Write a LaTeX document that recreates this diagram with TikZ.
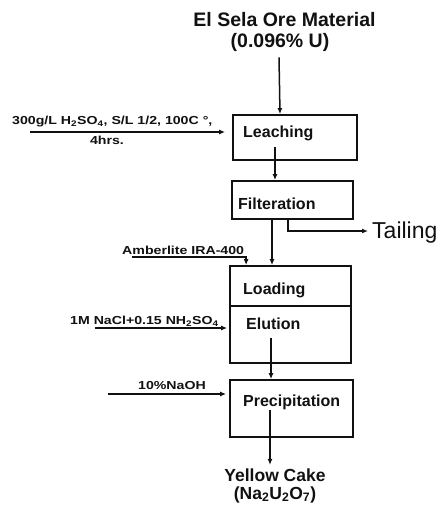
\documentclass[tikz,border=0pt]{standalone}
\usepackage{fontspec}
\setmainfont{Liberation Sans}
\newfontfamily\feedfont[FakeStretch=1.22]{Liberation Sans}
\usetikzlibrary{arrows.meta,calc,positioning}
\definecolor{oreInk}{HTML}{111111}
\definecolor{orePaper}{HTML}{FFFFFF}

\begin{document}
\begin{tikzpicture}[x=1pt,y=-1pt,>={Latex[length=6pt,width=5pt]},line cap=butt,line join=miter]
\path[fill=orePaper] (0,0) rectangle (440,511);
\tikzset{stage/.style={draw=oreInk,line width=1.8pt,inner sep=0pt},stagetext/.style={anchor=west,text=oreInk,inner sep=0pt,font=\bfseries\fontsize{16}{18}\selectfont},feed/.style={text=oreInk,inner sep=0pt,font=\feedfont\bfseries\fontsize{11.6}{13}\selectfont},flow/.style={draw=oreInk,line width=1.5pt,->},headline/.style={text=oreInk,inner sep=0pt,font=\bfseries\fontsize{19.5}{21}\selectfont}}
\node[headline] (ore) at (284.5,20) {El Sela Ore Material};
\node[headline] (grade) at (280,42) {(0.096\% U)};
% process stages
\node[stage,minimum width=124pt,minimum height=45pt] (leach) at (295,137.5) {};
\node[stage,minimum width=121pt,minimum height=38pt] (filt) at (292.5,200) {};
\node[stage,minimum width=121pt,minimum height=40pt] (load) at (290.5,286) {};
\node[stage,minimum width=121pt,minimum height=57pt] (elut) at (290.5,334.5) {};
\node[stage,minimum width=123pt,minimum height=57pt] (prec) at (291.5,408.5) {};
\node[stagetext] (leachtxt) at (243,133) {Leaching};
\node[stagetext] (filttxt) at (238,204) {Filteration};
\node[stagetext] (loadtxt) at (243,290) {Loading};
\node[stagetext] (eluttxt) at (246,324) {Elution};
\node[stagetext] (prectxt) at (243,402) {Precipitation};
\node[anchor=west,text=oreInk,inner sep=0pt,font=\fontsize{23}{25}\selectfont] (tail) at (372,233) {Tailing};
\node[text=oreInk,inner sep=0pt,align=center,font=\bfseries\fontsize{17.5}{17.5}\selectfont] (cake) at (275,486) {Yellow Cake\\(Na\textsubscript{2}U\textsubscript{2}O\textsubscript{7})};
% reagents
\node[feed,anchor=west] (acid) at (12,122) {300g/L H\textsubscript{2}SO\textsubscript{4}, S/L 1/2, 100C °,};
\node[feed] (acidtime) at (107,140) {4hrs.};
\node[feed,anchor=west] (resin) at (122,250) {Amberlite IRA-400};
\node[feed,anchor=west] (eluant) at (70,321) {1M NaCl+0.15 NH\textsubscript{2}SO\textsubscript{4}};
\node[feed] (caustic) at (172,386) {10\%NaOH};
\coordinate (acidin) at (30,132);
\coordinate (resinin) at (132,257);
\coordinate (eluantin) at (95,328);
\coordinate (causticin) at (108,394);
\coordinate (leachout) at (275,147);
\coordinate (filtout) at (272,219);
\coordinate (tailout) at (288,219);
\coordinate (elutout) at (271,338);
\coordinate (precout) at (270,410);
% connectors
\draw[flow] (grade.south) ++(-1,6) -- (grade.south |- leach.north);
\draw[flow,shorten >=7pt] (acidin) -- (acidin -| leach.west);
\draw[flow] (leachout) -- (leachout |- filt.north);
\draw[flow] (filtout) -- (filtout |- load.north);
\draw[flow] (tailout) |- ($(tail.west)+(-4,-2)$);
\draw[flow] (resinin) -| ($(load.north west)+(17,0)$);
\draw[flow,shorten >=2pt] (eluantin) -- (eluantin -| elut.west);
\draw[flow,shorten >=3pt] (causticin) -- (causticin -| prec.west);
\draw[flow] (elutout) -- (elutout |- prec.north);
\draw[flow,shorten >=4pt] (precout) -- (precout |- cake.north);
\end{tikzpicture}
\end{document}
